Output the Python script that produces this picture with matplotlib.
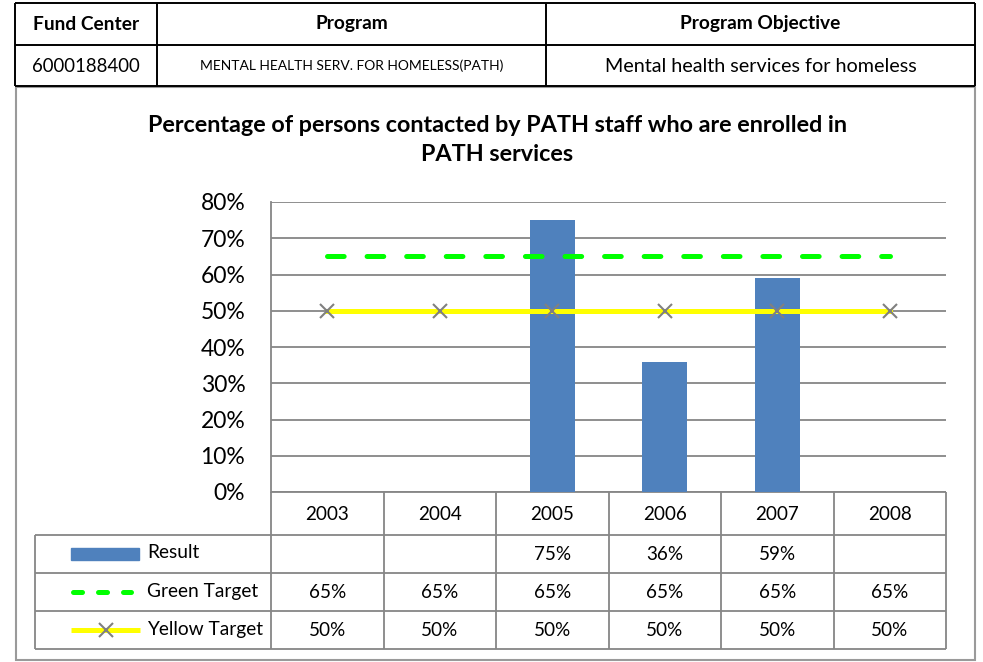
import numpy as np
import matplotlib
matplotlib.use("Agg")
import matplotlib.pyplot as plt
from matplotlib.patches import Rectangle

plt.rcParams['font.family'] = ['Lato', 'DejaVu Sans']
plt.rcParams['lines.scale_dashes'] = False

# data
years = ["2003", "2004", "2005", "2006", "2007", "2008"]
result = [np.nan, np.nan, 75, 36, 59, np.nan]
green_target = [65, 65, 65, 65, 65, 65]
yellow_target = [50, 50, 50, 50, 50, 50]

header_cols = ["Fund Center", "Program", "Program Objective"]
header_vals = ["6000188400", "MENTAL HEALTH SERV. FOR HOMELESS(PATH)",
               "Mental health services for homeless"]
title = "Percentage of persons contacted by PATH staff who are enrolled in\nPATH services"

W, H = 983, 662
fig = plt.figure(figsize=(W / 100, H / 100), dpi=100)

# overlay in pixel coords for the tables and frame
ov = fig.add_axes([0, 0, 1, 1])
ov.set_xlim(0, W)
ov.set_ylim(H, 0)
ov.axis("off")

grid_c = "#868686"

def hline(x0, x1, y, c=grid_c, lw=1.3):
    ov.plot([x0, x1], [y, y], color=c, lw=lw, solid_capstyle="butt")

def vline(x, y0, y1, c=grid_c, lw=1.3):
    ov.plot([x, x], [y0, y1], color=c, lw=lw, solid_capstyle="butt")

# top info table
tx = [15, 157, 546, 975]
ty = [3, 45, 86]
for y in ty:
    hline(tx[0], tx[-1], y, c="black", lw=1.4)
for x in tx:
    vline(x, ty[0], ty[-1], c="black", lw=1.4)
val_fs = [13.4, 10, 14.2]
for i in range(3):
    cx = (tx[i] + tx[i + 1]) / 2
    ov.text(cx, 24, header_cols[i], ha="center", va="center",
            fontsize=13.8, fontweight="bold")
    ov.text(cx, 66, header_vals[i], ha="center", va="center", fontsize=val_fs[i])

# chart frame
ov.add_patch(Rectangle((16, 87), 959, 573, fill=False, ec="#9a9a9a", lw=1.5))

ov.text(497, 140, title, ha="center", va="center", fontsize=16.8,
        fontweight="bold", linespacing=1.5)

# plot area
pl, pr, pt, pb = 271, 946, 202, 492
ax = fig.add_axes([pl / W, 1 - pb / H, (pr - pl) / W, (pb - pt) / H])
ax.patch.set_alpha(0)
x = np.arange(len(years))
ax.bar(x, result, width=0.4, color="#4F81BD", zorder=2)
gl, = ax.plot(x, green_target, color="#00FF00", lw=3.6,
              dash_capstyle="round", zorder=3)
gl.set_dashes([12, 16.5])
ax.plot(x, yellow_target, color="#FFFF00", lw=3.6, zorder=3)
ax.plot(x, yellow_target, ls="none", marker="x", ms=10, mew=1.5,
        color="#808080", zorder=4)
ax.set_xlim(-0.5, len(years) - 0.5)
ax.set_ylim(0, 80)
ax.set_yticks(np.arange(0, 81, 10))
ax.set_yticklabels([f"{v}%" for v in range(0, 81, 10)], fontsize=16.5)
ax.yaxis.grid(True, color=grid_c, lw=1.3)
ax.set_axisbelow(True)
ax.set_xticks([])
ax.tick_params(axis="y", length=0, pad=18.5)
for s in ["top", "right", "bottom"]:
    ax.spines[s].set_visible(False)
ax.spines["left"].set_color(grid_c)
ax.spines["left"].set_linewidth(1.3)

# data table below the plot
cw = (pr - pl) / len(years)
col_x = [pl + i * cw for i in range(len(years) + 1)]
rows_y = [492, 535, 573, 611, 649]
leg_l = 35
hline(pl, col_x[-1], rows_y[0])
for y in rows_y[1:]:
    hline(leg_l, col_x[-1], y)
for xx in col_x:
    vline(xx, rows_y[0], rows_y[-1])
vline(leg_l, rows_y[1], rows_y[-1])

def pct(v):
    return "" if np.isnan(v) else f"{v:.0f}%"

series = [result, green_target, yellow_target]
names = ["Result", "Green Target", "Yellow Target"]
for i, yr in enumerate(years):
    cx = col_x[i] + cw / 2
    ov.text(cx, (rows_y[0] + rows_y[1]) / 2 + 1, yr, ha="center", va="center", fontsize=13.6)
    for r, s in enumerate(series):
        cy = (rows_y[r + 1] + rows_y[r + 2]) / 2 + 1
        ov.text(cx, cy, pct(float(s[i])), ha="center", va="center", fontsize=13.6)

for r, name in enumerate(names):
    cy = (rows_y[r + 1] + rows_y[r + 2]) / 2 - 1
    ov.text(147, cy, name, ha="left", va="center", fontsize=13.8)

# legend keys
cy0 = (rows_y[1] + rows_y[2]) / 2
ov.add_patch(Rectangle((71, cy0 - 6), 68, 12, color="#4F81BD"))
cy1 = (rows_y[2] + rows_y[3]) / 2
lg, = ov.plot([73, 131], [cy1, cy1], color="#00FF00", lw=3.6, dash_capstyle="round")
lg.set_dashes([6.5, 11.5])
cy2 = (rows_y[3] + rows_y[4]) / 2
ov.plot([71, 140], [cy2, cy2], color="#FFFF00", lw=3.6, solid_capstyle="butt")
ov.plot([106], [cy2], ls="none", marker="x", ms=10, mew=1.5, color="#808080")

fig.savefig("out.png", dpi=100)
